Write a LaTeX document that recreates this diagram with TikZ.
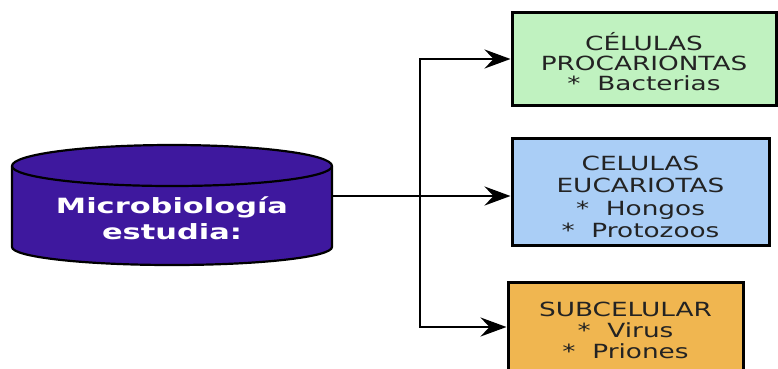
\documentclass[tikz,border=0pt]{standalone}
\usepackage{fontspec}
\setmainfont{DejaVu Sans}
\newfontfamily\boxfont{DejaVu Sans}[FakeStretch=1.35]
\newfontfamily\cylfont{DejaVu Sans}[FakeStretch=1.45]
\usetikzlibrary{arrows.meta}
\definecolor{cylpurple}{RGB}{62,24,158}
\definecolor{boxgreen}{RGB}{192,242,192}
\definecolor{boxblue}{RGB}{170,206,246}
\definecolor{boxorange}{RGB}{240,182,80}
\definecolor{txtgray}{RGB}{35,35,35}
\tikzset{
  catbox/.style={draw=black, line width=3pt, inner sep=0pt},
  cattext/.style={align=center, text=txtgray, inner sep=0pt,
    font={\boxfont\fontsize{19.5}{21}\selectfont}},
  link/.style={draw=black, line width=2.8pt},
  tip/.style={-{Stealth[length=26pt,width=19pt,inset=9pt]}}
}
\begin{document}
\begin{tikzpicture}[x=1pt,y=-1pt]
\useasboundingbox (0,0) rectangle (778,368);
\fill[white] (0,0) rectangle (778,368);
% cylinder-like shape
\filldraw[fill=cylpurple, draw=black, line width=2.2pt]
  (12,166) -- (12,247) arc[start angle=180,end angle=0,x radius=160,y radius=18]
  -- (332,166) arc[start angle=360,end angle=180,x radius=160,y radius=21] -- cycle;
\draw[black, line width=2.2pt] (12,166) arc[start angle=180,end angle=0,x radius=160,y radius=20];
\node[text=white, align=center, font={\cylfont\bfseries\fontsize{21}{25.5}\selectfont},
  minimum width=320pt, minimum height=120pt, inner sep=0pt] (cyl) at (172,218) {Microbiología\\estudia:};
% boxes
\node[catbox, fill=boxgreen, minimum width=264pt, minimum height=93pt] (green) at (644,58.5) {};
\node[cattext, font={\boxfont\fontsize{19.5}{20.3}\selectfont}] (greentext) at ([yshift=-3pt]green.center)
  {CÉLULAS\\PROCARIONTAS\\*\ \ Bacterias};
\node[catbox, fill=boxblue, minimum width=257pt, minimum height=107pt] (blue) at (640.5,191.5) {};
\node[cattext, font={\boxfont\fontsize{19.5}{22.3}\selectfont}] (bluetext) at ([yshift=-5.5pt]blue.center)
  {CELULAS\\EUCARIOTAS\\*\ \ Hongos\\*\ \ Protozoos};
\node[catbox, fill=boxorange, minimum width=235pt, minimum height=100pt] (orange) at (625.5,332) {};
\node[cattext] (orangetext) at ([yshift=2pt]orange.center)
  {SUBCELULAR\\*\ \ Virus\\*\ \ Priones};
% connectors
\coordinate (j) at (420,196);
\draw[link, tip] ([yshift=22pt]cyl.east) -- (j) -- (j -| blue.west);
\draw[link, tip] (j) |- ([yshift=-0.5pt]green.west);
\draw[link, tip] (j) |- ([yshift=5pt]orange.west);
\end{tikzpicture}
\end{document}
